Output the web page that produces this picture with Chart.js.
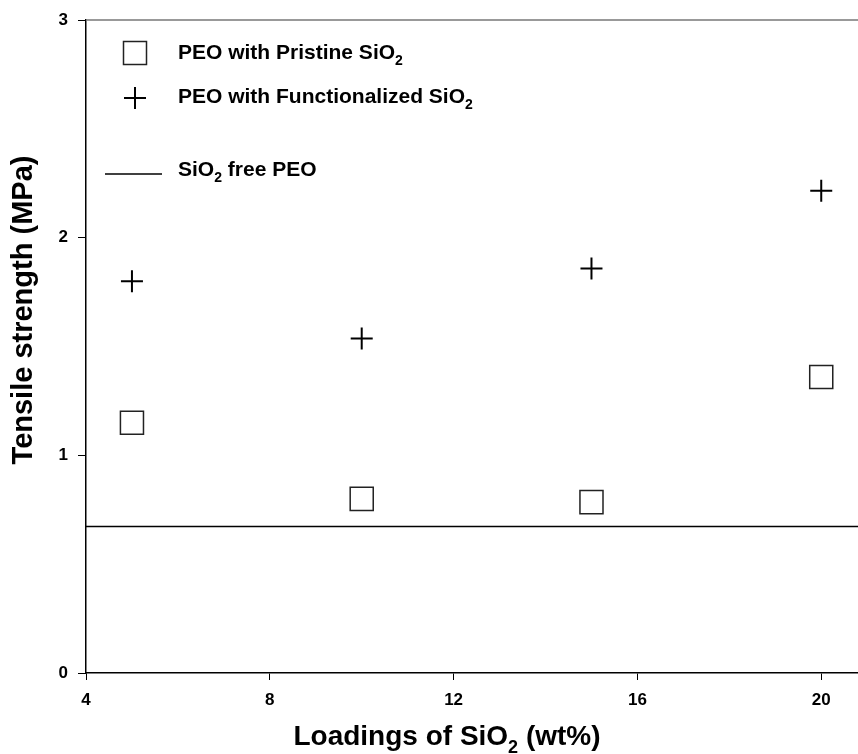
<!DOCTYPE html>
<html>
<head>
<meta charset="utf-8">
<script src="https://cdn.jsdelivr.net/npm/chart.js@4"></script>
<style>
  html, body { margin: 0; padding: 0; background: #fff; overflow: hidden; }
  canvas { display: block; }
</style>
</head>
<body>
<canvas id="tensileChart" width="858" height="754"></canvas>
<script>
const loadings = [5, 10, 15, 20];
const pristine = [1.15, 0.80, 0.785, 1.36];
const functionalized = [1.80, 1.537, 1.858, 2.215];
const freeLevel = 0.673;
const xRange = [4, 20.8];
const xTicks = [4, 8, 12, 16, 20];
const yTicks = [0, 1, 2, 3];

const FONT = "'Liberation Sans', Arial, Helvetica, sans-serif";

// draw text where "sub" parts are subscripts
function drawRich(ctx, parts, x, y, size, align) {
  const subSize = Math.round(size * 0.66);
  let total = 0;
  parts.forEach(function (p) {
    ctx.font = "bold " + (p.sub ? subSize : size) + "px " + FONT;
    total += ctx.measureText(p.t).width;
  });
  let cx = align === "center" ? x - total / 2 : x;
  ctx.textBaseline = "middle";
  ctx.textAlign = "left";
  parts.forEach(function (p) {
    ctx.font = "bold " + (p.sub ? subSize : size) + "px " + FONT;
    ctx.fillText(p.t, cx, p.sub ? y + size * 0.38 : y);
    cx += ctx.measureText(p.t).width;
  });
}

const decorations = {
  id: "decorations",
  afterDraw(chart) {
    const ctx = chart.ctx;
    const area = chart.chartArea;
    ctx.save();

    // top frame line
    ctx.strokeStyle = "#777";
    ctx.lineWidth = 1.5;
    ctx.beginPath();
    ctx.moveTo(area.left, area.top);
    ctx.lineTo(area.right, area.top);
    ctx.stroke();

    ctx.fillStyle = "#000";

    // axis titles
    drawRich(ctx, [{ t: "Loadings of SiO" }, { t: "2", sub: true }, { t: " (wt%)" }], 447, 737, 28, "center");

    ctx.save();
    ctx.translate(24, 310);
    ctx.rotate(-Math.PI / 2);
    drawRich(ctx, [{ t: "Tensile strength (MPa)" }], 0, 0, 29, "center");
    ctx.restore();

    // legend
    ctx.strokeStyle = "#222";
    ctx.lineWidth = 1.5;
    ctx.strokeRect(123.5, 41.5, 23, 23);
    drawRich(ctx, [{ t: "PEO with Pristine SiO" }, { t: "2", sub: true }], 178, 53, 21);

    ctx.strokeStyle = "#000";
    ctx.lineWidth = 2;
    ctx.beginPath();
    ctx.moveTo(124, 98);
    ctx.lineTo(146, 98);
    ctx.moveTo(135, 87);
    ctx.lineTo(135, 109);
    ctx.stroke();
    drawRich(ctx, [{ t: "PEO with Functionalized SiO" }, { t: "2", sub: true }], 178, 97, 21);

    ctx.lineWidth = 1.5;
    ctx.beginPath();
    ctx.moveTo(105, 174);
    ctx.lineTo(162, 174);
    ctx.stroke();
    drawRich(ctx, [{ t: "SiO" }, { t: "2", sub: true }, { t: " free PEO" }], 178, 170, 21);

    ctx.restore();
  },
};

const ctx = document.getElementById("tensileChart");
const tensileChart = new Chart(ctx, {
  type: "scatter",
  data: {
    datasets: [
      {
        label: "PEO with Pristine SiO2",
        data: loadings.map((x, i) => ({ x: x, y: pristine[i] })),
        pointStyle: "rect",
        pointRadius: 16.3,
        pointBorderWidth: 1.5,
        borderColor: "#222",
        backgroundColor: "#fff",
      },
      {
        label: "PEO with Functionalized SiO2",
        data: loadings.map((x, i) => ({ x: x, y: functionalized[i] })),
        pointStyle: "cross",
        pointRadius: 11,
        pointBorderWidth: 2,
        borderColor: "#000",
        backgroundColor: "#000",
      },
      {
        type: "line",
        label: "SiO2 free PEO",
        data: xRange.map((x) => ({ x: x, y: freeLevel })),
        borderColor: "#000",
        borderWidth: 1.5,
        pointRadius: 0,
        fill: false,
      },
    ],
  },
  options: {
    responsive: false,
    animation: false,
    layout: { autoPadding: false, padding: { top: 20, right: 0, left: 0, bottom: 0 } },
    scales: {
      x: {
        type: "linear",
        min: xRange[0],
        max: xRange[1],
        afterBuildTicks: (scale) => { scale.ticks = xTicks.map((v) => ({ value: v })); },
        afterFit: (scale) => { scale.height = 81; scale.paddingRight = 0; scale.paddingLeft = 0; },
        grid: { drawOnChartArea: false, drawTicks: true, tickLength: 7, color: "#000" },
        border: { display: true, color: "#000", width: 1.5 },
        ticks: { color: "#000", padding: 10, font: { family: FONT, size: 17, weight: "bold" } },
      },
      y: {
        min: 0,
        max: 3,
        afterBuildTicks: (scale) => { scale.ticks = yTicks.map((v) => ({ value: v })); },
        afterFit: (scale) => { scale.width = 86; scale.paddingTop = 0; scale.paddingBottom = 0; },
        grid: { drawOnChartArea: false, drawTicks: true, tickLength: 8, color: "#000" },
        border: { display: true, color: "#000", width: 1.5 },
        ticks: { color: "#000", padding: 10, font: { family: FONT, size: 17, weight: "bold" } },
      },
    },
    plugins: {
      legend: { display: false },
      tooltip: { enabled: false },
    },
  },
  plugins: [decorations],
});
</script>
</body>
</html>
